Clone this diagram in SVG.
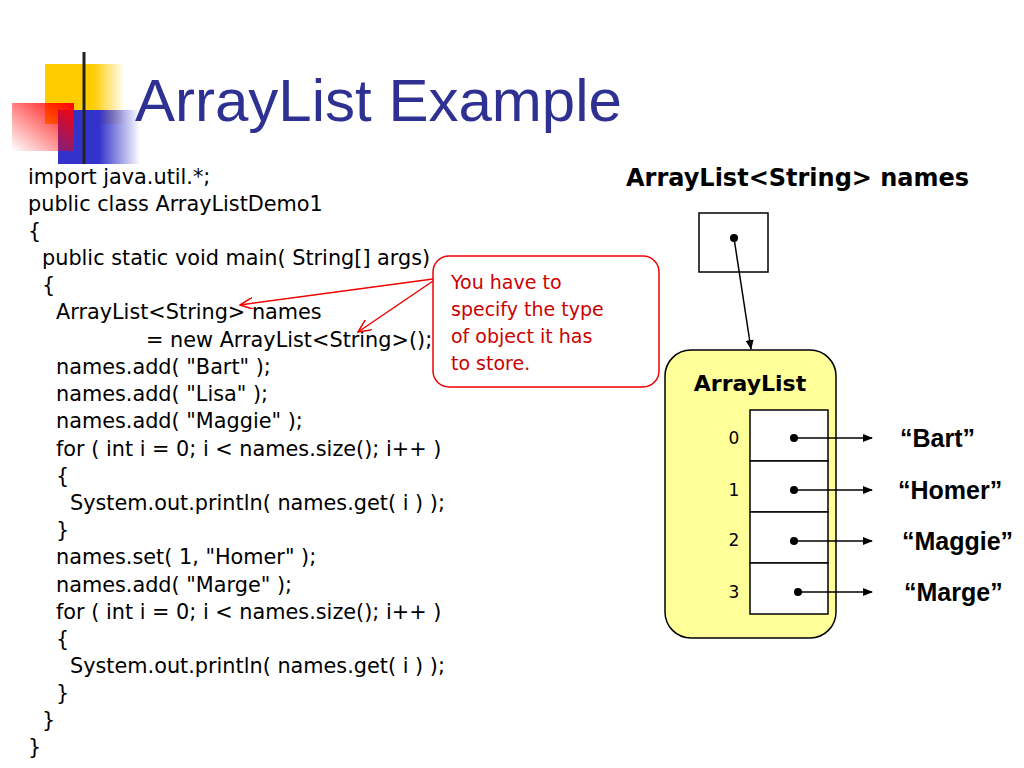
<svg xmlns="http://www.w3.org/2000/svg" width="1024" height="768" viewBox="0 0 1024 768">
<defs>
<linearGradient id="gy" x1="0" x2="1"><stop offset="0" stop-color="#ffcc00"/><stop offset="0.6" stop-color="#ffcc00"/><stop offset="1" stop-color="#ffcc00" stop-opacity="0"/></linearGradient>
<linearGradient id="gb" x1="0" x2="1"><stop offset="0" stop-color="#3333cc"/><stop offset="0.5" stop-color="#3333cc"/><stop offset="1" stop-color="#3333cc" stop-opacity="0"/></linearGradient>
<linearGradient id="gr" x1="1" x2="0" y1="0" y2="1"><stop offset="0" stop-color="#ff0000"/><stop offset="1" stop-color="#ff0000" stop-opacity="0"/></linearGradient>
<linearGradient id="gl" x1="0" x2="1"><stop offset="0" stop-color="#222"/><stop offset="1" stop-color="#222" stop-opacity="0.1"/></linearGradient>
<marker id="ah" markerWidth="10" markerHeight="8" refX="9" refY="4" orient="auto" markerUnits="userSpaceOnUse"><path d="M0,0L10,4L0,8z" fill="#000"/></marker>
<marker id="ar" markerWidth="14" markerHeight="12" refX="13" refY="6" orient="auto" markerUnits="userSpaceOnUse"><path d="M0,0L13,6L0,12" fill="none" stroke="#e00" stroke-width="1.5"/></marker>
</defs>
<style>
.code{font-family:"DejaVu Sans",sans-serif;font-size:20.8px;fill:#000}
.call{font-family:"DejaVu Sans",sans-serif;font-size:19px;fill:#cc0000}
.b{font-family:"DejaVu Sans",sans-serif;font-weight:bold;fill:#000}
.s{font-family:"Liberation Sans",Arial,sans-serif;font-weight:bold;font-size:25px;fill:#000}
.idx{font-family:"DejaVu Sans",sans-serif;font-size:17px;fill:#000}
.cell{fill:#fff;stroke:#000;stroke-width:1.5}
.con{stroke:#000;stroke-width:1.5;fill:none}
</style>
<rect x="45" y="64" width="80" height="60" fill="url(#gy)"/>
<rect x="58" y="110" width="82" height="54" fill="url(#gb)"/>
<rect x="12" y="103" width="62" height="48" fill="url(#gr)"/>
<line x1="84" y1="52" x2="84" y2="164" stroke="#222" stroke-width="3"/>
<line x1="46" y1="142" x2="1024" y2="142" stroke="url(#gl)" stroke-width="3"/>
<text x="135" y="121" font-family="Liberation Sans,Arial,sans-serif" font-size="60" fill="#2e3192">ArrayList Example</text>
<g id="code" class="code">
<text x="28" y="184">import java.util.*;</text>
<text x="28" y="211">public class ArrayListDemo1</text>
<text x="28" y="238">{</text>
<text x="42" y="265">public static void main( String[] args)</text>
<text x="42" y="292">{</text>
<text x="56" y="319">ArrayList&lt;String&gt; names</text>
<text x="146" y="347">= new ArrayList&lt;String&gt;();</text>
<text x="56" y="374">names.add( "Bart" );</text>
<text x="56" y="401">names.add( "Lisa" );</text>
<text x="56" y="428">names.add( "Maggie" );</text>
<text x="56" y="456">for ( int i = 0; i &lt; names.size(); i++ )</text>
<text x="56" y="483">{</text>
<text x="70" y="510">System.out.println( names.get( i ) );</text>
<text x="56" y="537">}</text>
<text x="56" y="564">names.set( 1, "Homer" );</text>
<text x="56" y="592">names.add( "Marge" );</text>
<text x="56" y="619">for ( int i = 0; i &lt; names.size(); i++ )</text>
<text x="56" y="646">{</text>
<text x="70" y="673">System.out.println( names.get( i ) );</text>
<text x="56" y="700">}</text>
<text x="42" y="727">}</text>
<text x="28" y="754">}</text>
</g>
<g id="callout">
<rect x="433" y="256" width="226" height="131" rx="16" fill="#fff" stroke="#e00" stroke-width="1.5"/>
<text class="call" x="451" y="289">You have to</text>
<text class="call" x="451" y="316">specify the type</text>
<text class="call" x="451" y="343">of object it has</text>
<text class="call" x="451" y="370">to store.</text>
</g>
<text id="title2" class="b" x="626" y="186" font-size="24">ArrayList&lt;String&gt; names</text>
<g id="pointer"><rect x="699" y="213" width="69" height="59" class="cell"/><circle cx="734" cy="238" r="4"/></g>
<g id="arraylist">
<rect x="665" y="350" width="171" height="288" rx="26" fill="#ffff99" stroke="#000" stroke-width="1.5"/>
<text class="b" x="750" y="391" font-size="22" text-anchor="middle">ArrayList</text>
<rect x="750" y="410" width="78" height="51" class="cell"/>
<rect x="750" y="461" width="78" height="51" class="cell"/>
<rect x="750" y="512" width="78" height="51" class="cell"/>
<rect x="750" y="563" width="78" height="51" class="cell"/>
<text class="idx" x="734" y="444" text-anchor="middle">0</text>
<text class="idx" x="734" y="496" text-anchor="middle">1</text>
<text class="idx" x="734" y="546" text-anchor="middle">2</text>
<text class="idx" x="734" y="598" text-anchor="middle">3</text>
<circle cx="794" cy="438" r="4"/><circle cx="794" cy="490" r="4"/><circle cx="794" cy="541" r="4"/><circle cx="798" cy="592" r="4"/>
</g>
<g id="strings" class="s">
<text x="900" y="447">“Bart”</text>
<text x="898" y="499">“Homer”</text>
<text x="902" y="550">“Maggie”</text>
<text x="904" y="601">“Marge”</text>
</g>
<g id="connectors">
<line class="con" x1="734" y1="238" x2="751" y2="349" marker-end="url(#ah)"/>
<line class="con" x1="794" y1="438" x2="872" y2="438" marker-end="url(#ah)"/>
<line class="con" x1="794" y1="490" x2="872" y2="490" marker-end="url(#ah)"/>
<line class="con" x1="794" y1="541" x2="872" y2="541" marker-end="url(#ah)"/>
<line class="con" x1="798" y1="592" x2="872" y2="592" marker-end="url(#ah)"/>
<line x1="433" y1="279" x2="240" y2="305" stroke="#e00" stroke-width="1.5" marker-end="url(#ar)"/>
<line x1="433" y1="281" x2="358" y2="332" stroke="#e00" stroke-width="1.5" marker-end="url(#ar)"/>
</g>
</svg>
